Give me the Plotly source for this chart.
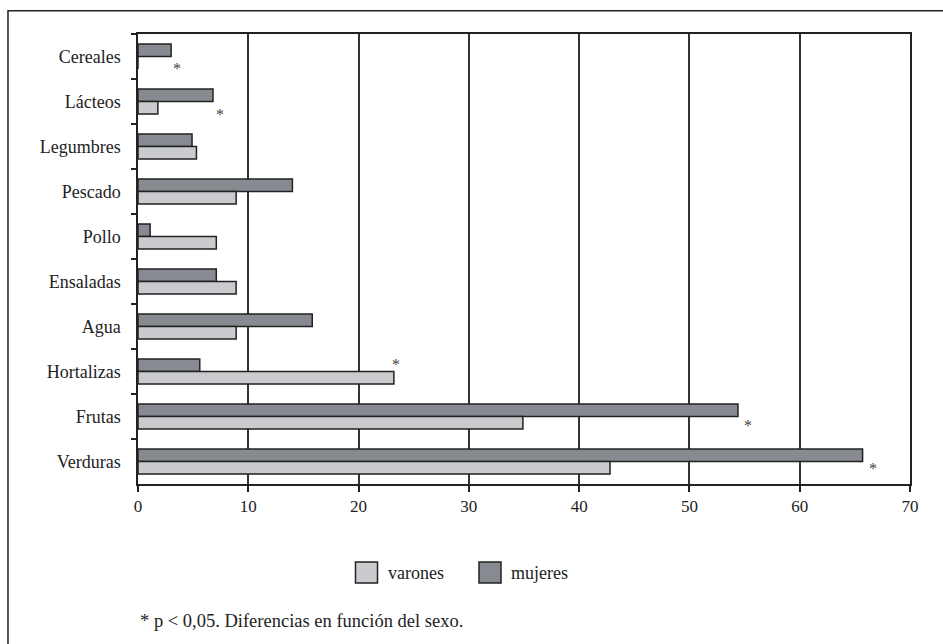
import plotly.graph_objects as go

# Alimentos, listed top to bottom as they appear on the chart
categorias = ["Cereales", "Lácteos", "Legumbres", "Pescado", "Pollo",
              "Ensaladas", "Agua", "Hortalizas", "Frutas", "Verduras"]
mujeres = [3.0, 6.8, 4.9, 14.0, 1.1, 7.1, 15.8, 5.6, 54.4, 65.7]
varones = [0.0, 1.8, 5.3, 8.9, 7.1, 8.9, 8.9, 23.2, 34.9, 42.8]
ticks_x = [0, 10, 20, 30, 40, 50, 60, 70]

# significant differences: (category, series whose bar end anchors the star)
significativos = [("Cereales", "mujeres"), ("Lácteos", "mujeres"),
                  ("Hortalizas", "varones"), ("Frutas", "mujeres"),
                  ("Verduras", "mujeres")]

FONT = "Liberation Serif, Times New Roman, serif"
C_MUJ = "#878b91"
C_VAR = "#c9cbcf"
EDGE = "#222222"

fig = go.Figure()
fig.add_trace(go.Bar(y=categorias, x=mujeres, orientation="h", name="mujeres",
                     marker=dict(color=C_MUJ, line=dict(color=EDGE, width=1.5))))
fig.add_trace(go.Bar(y=categorias, x=varones, orientation="h", name="varones",
                     marker=dict(color=C_VAR, line=dict(color=EDGE, width=1.5))))

# star offsets (px) per significant item
desplaz = {"Cereales": (6, -12), "Lácteos": (7, -13), "Hortalizas": (2, 7),
           "Frutas": (10, -9), "Verduras": (10, -7)}
series = {"mujeres": mujeres, "varones": varones}
for cat, serie in significativos:
    i = categorias.index(cat)
    dx, dy = desplaz[cat]
    fig.add_annotation(x=series[serie][i], y=cat, text="*", showarrow=False,
                       xanchor="center", yanchor="middle", xshift=dx, yshift=dy,
                       font=dict(family=FONT, size=16, color="#444444"))

fig.update_layout(
    width=943, height=644,
    margin=dict(l=138, r=33, t=34, b=160),
    paper_bgcolor="white", plot_bgcolor="white",
    barmode="group", bargap=0.444, bargroupgap=0,
    showlegend=False,
    font=dict(family=FONT, color="#222222"),
)
fig.update_xaxes(range=[0, 70], tickvals=ticks_x, ticks="outside", ticklen=6,
                 tickwidth=1.5, tickcolor="#222", showgrid=True, gridcolor="#333333",
                 gridwidth=1.5, showline=True, linecolor="#222", linewidth=1.5,
                 mirror=True, zeroline=False, tickfont=dict(size=17, family=FONT))
fig.update_yaxes(autorange="reversed", ticks="outside", ticklen=5, tickwidth=1.5,
                 tickcolor="#222", tickson="boundaries", showline=True,
                 linecolor="#222", linewidth=1.5, mirror=True, showgrid=False,
                 ticklabelstandoff=12, tickfont=dict(size=18, family=FONT))

# outer frame of the figure
fig.add_shape(type="rect", xref="paper", yref="paper",
              x0=-0.1684, x1=1.2, y0=-0.6, y1=1.0518,
              line=dict(color="#222", width=1.5), fillcolor="rgba(0,0,0,0)")

# legend drawn as boxes with labels
ley = [("varones", C_VAR, 355.5, 386), ("mujeres", C_MUJ, 479, 509)]
for nombre, color, bx, tx in ley:
    fig.add_shape(type="rect", xref="paper", yref="paper",
                  x0=(bx - 138) / 772, x1=(bx + 22 - 138) / 772,
                  y0=(484 - 583) / 450, y1=(484 - 562) / 450,
                  line=dict(color=EDGE, width=1.5), fillcolor=color)
    fig.add_annotation(xref="paper", yref="paper", x=(tx - 138) / 772,
                       y=(484 - 573) / 450, text=nombre, showarrow=False,
                       xanchor="left", yanchor="middle",
                       font=dict(family=FONT, size=18, color="#222"))

fig.add_annotation(xref="paper", yref="paper", x=0, y=(484 - 621) / 450,
                   text="* p < 0,05. Diferencias en función del sexo.",
                   showarrow=False, xanchor="left", yanchor="middle",
                   font=dict(family=FONT, size=18.5, color="#222"))

fig.write_html("out.html")
